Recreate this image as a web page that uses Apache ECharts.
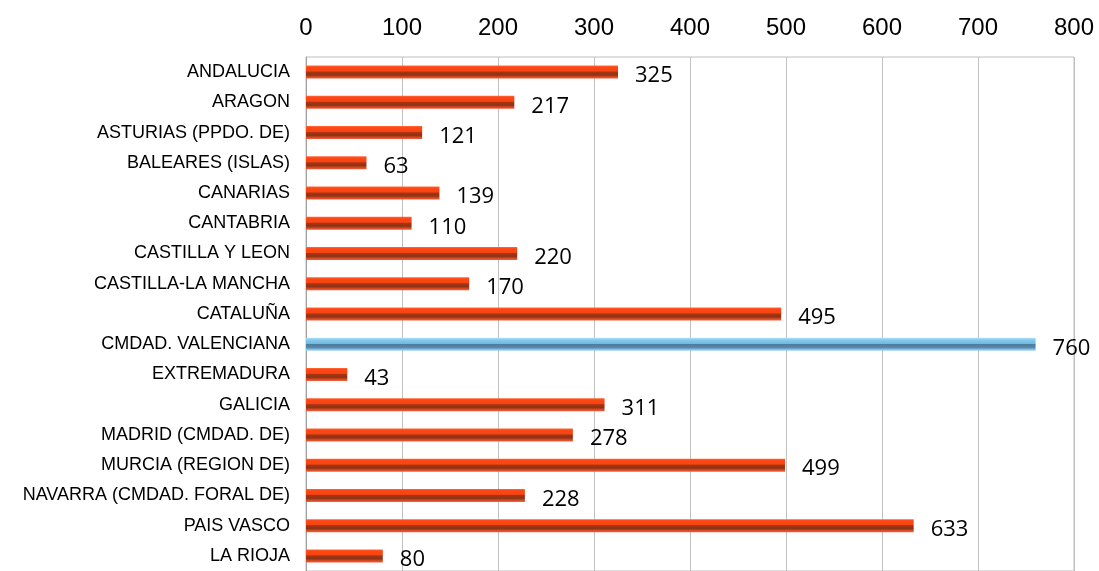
<!DOCTYPE html>
<html><head><meta charset="utf-8">
<script src="https://cdn.jsdelivr.net/npm/echarts@6/dist/echarts.min.js"></script>
<style>html,body{margin:0;padding:0;background:#fff}#c{width:1099px;height:571px}</style>
</head><body><div id="c"></div>
<script>
const categories = ["ANDALUCIA","ARAGON","ASTURIAS (PPDO. DE)","BALEARES (ISLAS)","CANARIAS","CANTABRIA","CASTILLA Y LEON","CASTILLA-LA MANCHA","CATALUÑA","CMDAD. VALENCIANA","EXTREMADURA","GALICIA","MADRID (CMDAD. DE)","MURCIA (REGION DE)","NAVARRA (CMDAD. FORAL DE)","PAIS VASCO","LA RIOJA"];
const values = [325,217,121,63,139,110,220,170,495,760,43,311,278,499,228,633,80];
const highlight = "CMDAD. VALENCIANA";
const tickMin = 0, tickMax = 800, tickStep = 100;

const orange = new echarts.graphic.LinearGradient(0,0,0,1,[
  {offset:0,color:'#ff6a3a'},{offset:0.12,color:'#ff4714'},{offset:0.42,color:'#f54414'},
  {offset:0.5,color:'#a83410'},{offset:0.72,color:'#8a3418'},{offset:0.86,color:'#d8461c'},{offset:1,color:'#f26040'}]);
const blue = new echarts.graphic.LinearGradient(0,0,0,1,[
  {offset:0,color:'#b4e6fb'},{offset:0.15,color:'#84ccf0'},{offset:0.45,color:'#76b8e0'},
  {offset:0.52,color:'#4e7c9c'},{offset:0.75,color:'#5a88a8'},{offset:0.88,color:'#7cb8e0'},{offset:1,color:'#a4d8f4'}]);

const chart = echarts.init(document.getElementById('c'));
chart.setOption({
  animation:false,
  grid:{left:306,right:25,top:57,bottom:-9,show:true,borderColor:'#bfbfbf',borderWidth:1},
  xAxis:{type:'value',position:'top',min:tickMin,max:tickMax,interval:tickStep,
    axisLine:{show:false},axisTick:{show:false},
    axisLabel:{fontFamily:"'Liberation Sans', Arial, sans-serif",fontSize:24,color:'#000',margin:17},
    splitLine:{lineStyle:{color:'#c0c0c0',width:1}}},
  yAxis:{type:'category',inverse:true,data:categories,
    axisLine:{show:true,lineStyle:{color:'#a0a0a0',width:1}},axisTick:{show:false},
    axisLabel:{fontFamily:"'Liberation Sans', Arial, sans-serif",fontSize:18,color:'#000',margin:16}},
  series:[{type:'bar',barWidth:13,
    data:values.map((v,i)=>({value:v,itemStyle:{color:categories[i]===highlight?blue:orange}})),
    label:{show:true,position:'right',distance:17,offset:[0,4],
      fontFamily:"'Open Sans', Lato, sans-serif",fontSize:22,color:'#000'}}]
});
</script></body></html>
